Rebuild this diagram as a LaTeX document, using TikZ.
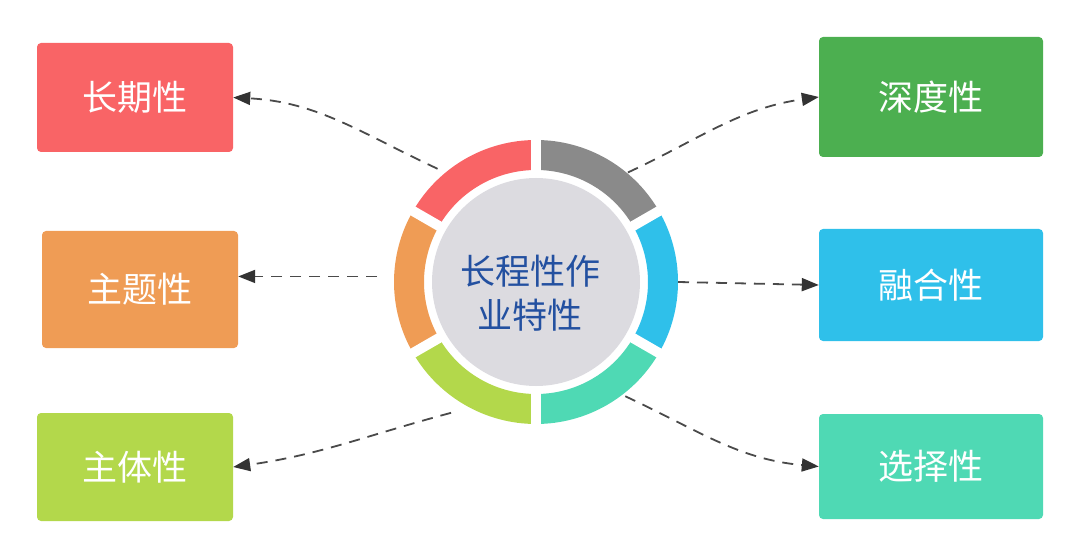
\documentclass[tikz,border=0pt]{standalone}
\usepackage{fontspec}
\setmainfont{Noto Sans CJK SC}
\usepackage{tikz}
\usetikzlibrary{calc}
\usetikzlibrary{arrows.meta, positioning}

\definecolor{ringred}{HTML}{F96466}
\definecolor{ringorange}{HTML}{EF9C55}
\definecolor{ringlime}{HTML}{B3D84B}
\definecolor{ringteal}{HTML}{4FD9B4}
\definecolor{ringblue}{HTML}{2FC0EA}
\definecolor{ringgray}{HTML}{8A8A8A}
\definecolor{boxgreen}{HTML}{4CAF50}
\definecolor{hubgray}{HTML}{DCDBE0}
\definecolor{hubtext}{HTML}{2350A0}
\definecolor{linkgray}{HTML}{4A4A4A}
\definecolor{tipgray}{HTML}{333333}

\tikzset{
  trait/.style={rectangle, rounded corners=4pt, text=white, font=\fontsize{35}{38}\selectfont, inner sep=0pt},
  link/.style={draw=linkgray, line width=1.8pt, dash pattern=on 11pt off 8pt,
    -{Triangle[length=17pt,width=13pt,fill=tipgray,color=tipgray]}}
}

\begin{document}
\begin{tikzpicture}[x=1pt,y=1pt]
\useasboundingbox (0,0) rectangle (1080,558);

% Ring segments round the hub
\coordinate (c) at (536,276);
\foreach \a/\col in {90/ringred, 150/ringorange, 210/ringlime, 270/ringteal, 330/ringblue, 30/ringgray}
{
    \fill[\col] ($(c)+(\a:142)$) arc[start angle=\a, end angle=\a+60, radius=142]
        -- ($(c)+(\a+60:112)$) arc[start angle=\a+60, end angle=\a, radius=112] -- cycle;
}
\foreach \a in {30,90,...,330}
{
    \draw[white, line width=10pt] (c) -- ($(c)+(\a:150)$);
}

% Hub circle
\node[circle, fill=hubgray, minimum size=208pt, inner sep=0pt] (hub) at (c) {};
\node[text=hubtext, font=\fontsize{35}{44}\selectfont, align=center] (hubtxt) at ($(c)+(-6,-11)$) {长程性作\\业特性};

% Left column
\node[trait, fill=ringred, minimum width=196pt, minimum height=109pt] (cq) at (135,460.5) {长期性};
\node[trait, fill=ringorange, minimum width=196pt, minimum height=117pt] (zt) at (140,268.5) {主题性};
\node[trait, fill=ringlime, minimum width=196pt, minimum height=108pt] (zti) at (135,91) {主体性};

% Right column
\node[trait, fill=boxgreen, minimum width=224pt, minimum height=120pt] (sd) at (931,461) {深度性};
\node[trait, fill=ringblue, minimum width=224pt, minimum height=112pt] (rh) at (931,273) {融合性};
\node[trait, fill=ringteal, minimum width=224pt, minimum height=105pt] (xz) at (931,91.5) {选择性};

% Start points on the ring
\coordinate (s1) at ($(c)+(131:150)$);
\coordinate (s2) at ($(c)+(178:159)$);
\coordinate (s3) at ($(c)+(237:156)$);
\coordinate (s4) at ($(c)+(50:143)$);
\coordinate (s5) at ($(c)+(0:142)$);
\coordinate (s6) at ($(c)+(308:145)$);

% Dashed links
\draw[link] (s1) to[out=155, in=-3] (cq.east);
\draw[link] (s2) -- (s2 -| zt.east);
\draw[link] (s3) to[out=195, in=8] (zti.east);
\draw[link] (s4) to[out=25, in=188] (sd.west);
\draw[link] (s5) -- (rh.west);
\draw[link] (s6) to[out=-25, in=175] (xz.west);

\end{tikzpicture}
\end{document}
